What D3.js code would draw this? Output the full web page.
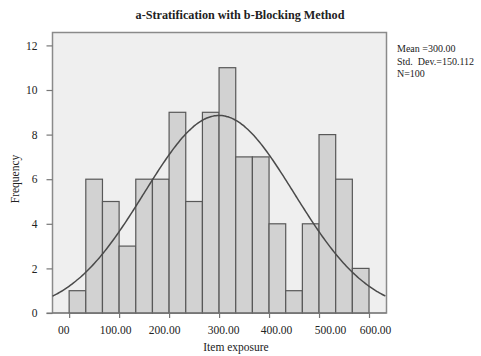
<!doctype html>
<html lang="en">
<head>
  <meta charset="UTF-8">
  <title>a-Stratification with b-Blocking Method</title>
  <style type="text/css">
    body { margin: 0; background: #fff; }
    text { font-family: "Liberation Serif", "Times New Roman", serif; fill: #222; }
  </style>
  <script src="https://cdn.jsdelivr.net/npm/d3@7/dist/d3.min.js"></script>
</head>
<body>
  <svg width="481" height="356"></svg>
  <script>
    // histogram bins of width 33.33 from 0 to 600
    let binStart = 0
    let binWidth = 600 / 18
    let counts = [1, 6, 5, 3, 6, 6, 9, 5, 9, 11, 7, 7, 4, 1, 4, 8, 6, 2]
    let yTicks = [0, 2, 4, 6, 8, 10, 12]
    let xTicks = [0, 100, 200, 300, 400, 500, 600]
    let xTickLabels = ['00', '100.00', '200.00', '300.00', '400.00', '500.00', '600.00']
    let mean = 300.00
    let sd = 150.112
    let n = 100
    let stats = ['Mean =300.00', 'Std.  Dev.=150.112', 'N=100']

    let svg = d3.select('svg')
    let plotLeft = 52.5, plotRight = 386.5, plotTop = 32.5, plotBottom = 313

    let x = d3.scaleLinear().domain([-33.3, 635]).range([plotLeft, plotRight])
    let y = d3.scaleLinear().domain([0, 12]).range([plotBottom, 45.4])

    // plot background / frame
    svg.append('rect')
      .attr('x', plotLeft).attr('y', plotTop)
      .attr('width', plotRight - plotLeft).attr('height', plotBottom - plotTop)
      .attr('fill', '#efefef')
      .attr('stroke', '#8a8a8a')
      .attr('stroke-width', 1.5)

    // bars
    svg.selectAll('rect.bar')
      .data(counts)
      .enter().append('rect')
      .attr('class', 'bar')
      .attr('x', function (d, i) { return x(binStart + i * binWidth); })
      .attr('width', x(binWidth) - x(0))
      .attr('y', function (d) { return y(d); })
      .attr('height', function (d) { return y(0) - y(d); })
      .attr('fill', '#d2d2d2')
      .attr('stroke', '#585858')
      .attr('stroke-width', 1.2)

    // normal curve scaled to counts
    let curvePts = d3.range(-33.3, 635.1, 3).map(function (v) {
      let z = (v - mean) / sd
      return [v, n * binWidth * Math.exp(-0.5 * z * z) / (sd * Math.sqrt(2 * Math.PI))]
    })
    svg.append('path')
      .datum(curvePts)
      .attr('fill', 'none')
      .attr('stroke', '#4a4a4a')
      .attr('stroke-width', 1.5)
      .attr('d', d3.line()
        .x(function (d) { return x(d[0]); })
        .y(function (d) { return y(d[1]); })
        .curve(d3.curveBasis))

    // y axis
    let yAxis = d3.axisLeft(y).tickValues(yTicks).tickSize(6).tickPadding(9)
    let gy = svg.append('g').attr('transform', 'translate(' + plotLeft + ',0)').call(yAxis)
    gy.select('.domain').remove()
    gy.selectAll('line').attr('stroke', '#777').attr('stroke-width', 1.2)
    gy.selectAll('text').attr('font-size', 11.5).attr('fill', '#222')
      .style('font-family', '"Liberation Serif", serif')

    // x axis
    let xAxis = d3.axisBottom(x).tickValues(xTicks).tickSize(5).tickPadding(8)
      .tickFormat(function (d, i) { return xTickLabels[i]; })
    let gx = svg.append('g').attr('transform', 'translate(0,' + plotBottom + ')').call(xAxis)
    gx.select('.domain').attr('d', 'M' + (plotLeft - 6) + ',0H' + plotRight)
      .attr('stroke', '#777').attr('stroke-width', 1.2)
    gx.selectAll('line').attr('stroke', '#777').attr('stroke-width', 1.2)
    let labelShift = [-6, -4, -5, 4, 7, 11, 6]
    gx.selectAll('text').attr('font-size', 11.5).attr('fill', '#222')
      .style('font-family', '"Liberation Serif", serif')
      .attr('dx', function (d, i) { return labelShift[i]; })

    // title and axis titles
    svg.append('text')
      .attr('x', 240).attr('y', 19)
      .attr('text-anchor', 'middle')
      .attr('font-size', 12.2).attr('font-weight', 'bold')
      .text('a-Stratification with b-Blocking Method')

    svg.append('text')
      .attr('x', 236).attr('y', 351)
      .attr('text-anchor', 'middle')
      .attr('font-size', 11.5)
      .text('Item exposure')

    svg.append('text')
      .attr('transform', 'translate(19,179) rotate(-90)')
      .attr('text-anchor', 'middle')
      .attr('font-size', 11.5)
      .text('Frequency')

    // stats box
    svg.selectAll('text.stat')
      .data(stats)
      .enter().append('text')
      .attr('class', 'stat')
      .attr('x', 397)
      .attr('y', function (d, i) { return 52 + i * 12.5; })
      .attr('font-size', 10)
      .style('white-space', 'pre')
      .text(function (d) { return d; })
  </script>
</body>
</html>
